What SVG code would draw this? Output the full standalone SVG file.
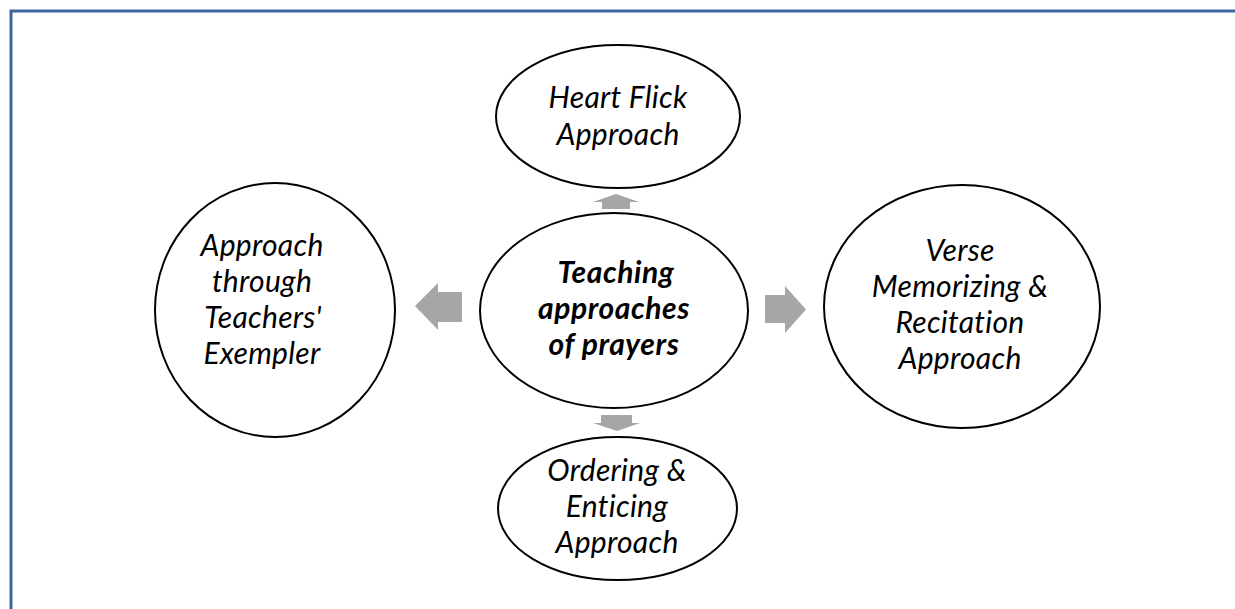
<svg xmlns="http://www.w3.org/2000/svg" width="1235" height="609" viewBox="0 0 1235 609">
<style>
.node{fill:#fff;stroke:#000;stroke-width:2}
.lbl{font-family:Lato,"Open Sans","Liberation Sans",sans-serif;font-style:italic;font-size:30px;fill:#000;text-anchor:middle;letter-spacing:0.3px}
.b{font-weight:bold;letter-spacing:0.6px}
.arr{fill:#A6A6A6;stroke:none}
</style>
<rect x="0" y="0" width="1235" height="609" fill="#fff"/>
<rect x="11" y="11" width="1240" height="620" fill="none" stroke="#3E64A0" stroke-width="3"/>
<g id="connectors">
<polygon class="arr" points="616,194 639,202 630,202 630,209 602,209 602,202 593,202"/>
<polygon class="arr" points="601,415 632,415 632,423 640,423 617,431 593,423 601,423"/>
<polygon class="arr" points="415,306 438,283 438,292 462,292 462,322 438,322 438,330"/>
<polygon class="arr" points="765,295 785,295 785,286 806,309.5 785,333 785,323 765,323"/>
</g>
<g id="center">
<ellipse class="node" cx="614" cy="310.5" rx="134" ry="97.5"/>
<text class="lbl b" x="616" y="283">Teaching</text>
<text class="lbl b" x="614" y="319">approaches</text>
<text class="lbl b" x="614" y="355">of prayers</text>
</g>
<g id="heart">
<ellipse class="node" cx="618" cy="116.5" rx="122" ry="71.5"/>
<text class="lbl" x="618" y="108">Heart Flick</text>
<text class="lbl" x="618" y="145">Approach</text>
</g>
<g id="ordering">
<ellipse class="node" cx="617.5" cy="508.5" rx="119.5" ry="71.5"/>
<text class="lbl" x="617" y="481">Ordering &amp;</text>
<text class="lbl" x="617" y="517">Enticing</text>
<text class="lbl" x="617" y="553">Approach</text>
</g>
<g id="exempler">
<ellipse class="node" cx="275" cy="310" rx="120" ry="127"/>
<text class="lbl" x="262" y="255.5">Approach</text>
<text class="lbl" x="262" y="291.5">through</text>
<text class="lbl" x="263" y="327.5">Teachers'</text>
<text class="lbl" x="262" y="363.5">Exempler</text>
</g>
<g id="verse">
<ellipse class="node" cx="962" cy="306.5" rx="138" ry="121.5"/>
<text class="lbl" x="960" y="261">Verse</text>
<text class="lbl" x="960" y="297">Memorizing &amp;</text>
<text class="lbl" x="960" y="333">Recitation</text>
<text class="lbl" x="960" y="369">Approach</text>
</g>
</svg>
